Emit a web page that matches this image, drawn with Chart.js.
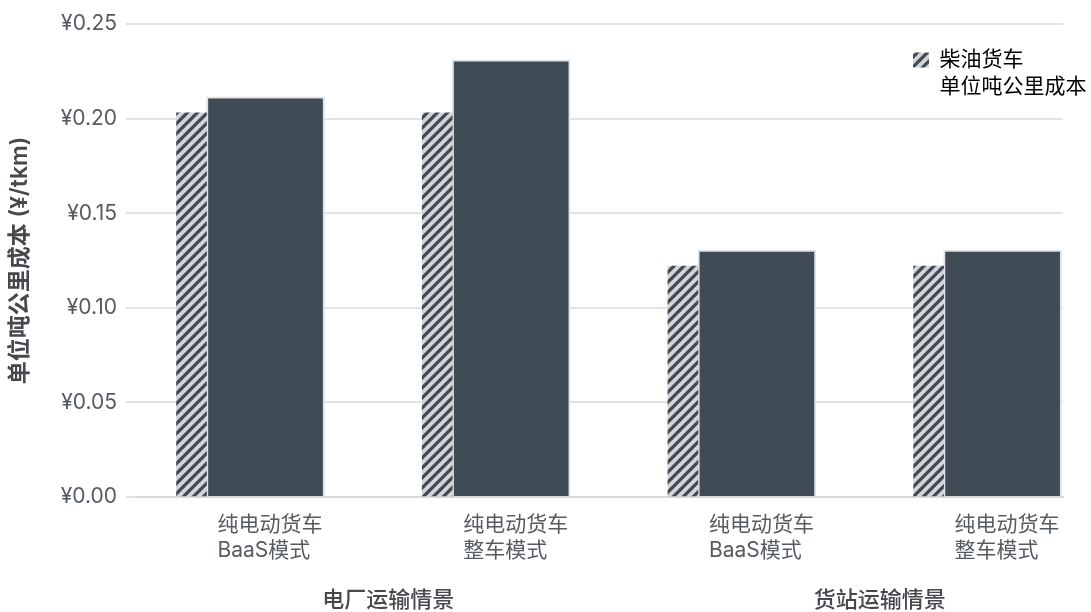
<!DOCTYPE html>
<html>
<head>
<meta charset="utf-8">
<script src="https://cdn.jsdelivr.net/npm/chart.js@4.4.1/dist/chart.umd.min.js"></script>
<style>
html,body{margin:0;padding:0;background:#fff;}
#wrap{width:1091px;height:612px;}
</style>
</head>
<body>
<div id="wrap"><canvas id="c" width="1091" height="612"></canvas></div>
<script>
// ---- data ----
const CATEGORIES = [
  ['纯电动货车', 'BaaS模式'],
  ['纯电动货车', '整车模式'],
  ['纯电动货车', 'BaaS模式'],
  ['纯电动货车', '整车模式']
];
const GROUPS = ['电厂运输情景', '货站运输情景'];
const GROUP_MEMBERS = [[0, 1], [2, 3]];
const DIESEL = [0.203, 0.203, 0.122, 0.122];
const ELECTRIC = [0.2115, 0.231, 0.1305, 0.1305];
const Y_TICKS = [0, 0.05, 0.10, 0.15, 0.20, 0.25];
const DIESEL_LABEL = ['柴油货车', '单位吨公里成本'];
const ELECTRIC_LABEL = '纯电动货车';
const Y_TITLE = '单位吨公里成本 (¥/tkm)';

// ---- styles ----
const FONT = "Inter, 'Noto Sans CJK SC', sans-serif";
const TEXT = '#565b61';
const TITLE = '#45494e';
const DARK = '#3f4b55';
const GRID = '#e3e3e3';

function makeHatch() {
  const s = 10;
  const c = document.createElement('canvas');
  c.width = s; c.height = s;
  const g = c.getContext('2d');
  g.fillStyle = '#d3d4d6';
  g.fillRect(0, 0, s, s);
  g.strokeStyle = '#3f4a54';
  g.lineWidth = 3.2;
  g.beginPath();
  for (let k = 0; k <= 2; k++) {
    g.moveTo(-1, k * s + 1);
    g.lineTo(s + 1, k * s - s - 1);
  }
  g.stroke();
  return document.getElementById('c').getContext('2d').createPattern(c, 'repeat');
}
const hatch = makeHatch();

Chart.defaults.font.family = FONT;
Chart.defaults.color = TEXT;

const X_MIN = -0.287, X_MAX = 3.486;
const mean = a => a.reduce((s, v) => s + v, 0) / a.length;

const legendPlacer = {
  id: 'legendPlacer',
  beforeDraw(chart) {
    const lg = chart.legend;
    if (!lg) return;
    const a = chart.chartArea;
    const w = lg.width, h = lg.height;
    lg.left = a.right - 156; lg.right = lg.left + w;
    lg.top = a.top + 19.5; lg.bottom = lg.top + h;
  }
};

new Chart(document.getElementById('c'), {
  type: 'bar',
  data: {
    datasets: [
      {
        label: DIESEL_LABEL[0],
        data: DIESEL.map((v, i) => ({ x: i, y: v })),
        backgroundColor: hatch,
        borderWidth: 0,
        barThickness: 30
      },
      {
        label: ELECTRIC_LABEL,
        data: ELECTRIC.map((v, i) => ({ x: i, y: v })),
        backgroundColor: DARK,
        borderColor: '#e2e2e2',
        borderWidth: 2,
        barThickness: 118
      }
    ]
  },
  options: {
    responsive: false,
    animation: false,
    devicePixelRatio: 1,
    layout: { padding: { left: 0, right: 28, top: 24, bottom: 0 } },
    plugins: {
      tooltip: { enabled: false },
      legend: {
        position: 'chartArea',
        align: 'start',
        labels: {
          boxWidth: 16,
          boxHeight: 15,
          padding: 6,
          color: TEXT,
          font: { size: 21, family: FONT },
          generateLabels: () => [
            { text: DIESEL_LABEL[0], fillStyle: hatch, strokeStyle: 'rgba(0,0,0,0)', lineWidth: 0, hidden: false, datasetIndex: 0 },
            { text: DIESEL_LABEL[1], fillStyle: 'rgba(0,0,0,0)', strokeStyle: 'rgba(0,0,0,0)', lineWidth: 0, hidden: false }
          ]
        },
        onClick: () => {}
      }
    },
    scales: {
      x: {
        type: 'linear',
        position: 'bottom',
        offset: false,
        min: X_MIN, max: X_MAX,
        grid: { display: false, offset: false },
        border: { display: true, color: '#d9d9d9', width: 2 },
        afterBuildTicks: s => { s.ticks = CATEGORIES.map((_, i) => ({ value: i })); },
        ticks: {
          align: 'start',
          labelOffset: 11,
          padding: 7.5,
          autoSkip: false,
          maxRotation: 0,
          color: TEXT,
          font: { size: 21, family: FONT, lineHeight: 1.2 },
          callback: v => CATEGORIES[v] ?? ''
        },
        afterFit: s => { s.height = 85; }
      },
      x2: {
        type: 'linear',
        position: 'bottom',
        offset: false,
        min: X_MIN, max: X_MAX,
        grid: { display: false, offset: false, drawTicks: false },
        border: { display: false },
        afterBuildTicks: s => { s.ticks = GROUP_MEMBERS.map(m => ({ value: mean(m) })); },
        ticks: {
          labelOffset: 59,
          padding: 7,
          autoSkip: false,
          maxRotation: 0,
          color: TITLE,
          font: { size: 22, family: FONT, weight: '500', lineHeight: 1 },
          callback: (v, i) => GROUPS[i]
        },
        afterFit: s => { s.height = 30; }
      },
      y: {
        min: 0, max: 0.25,
        afterBuildTicks: s => { s.ticks = Y_TICKS.map(v => ({ value: v })); },
        grid: { color: GRID, lineWidth: 2, tickLength: 10, tickColor: GRID },
        border: { display: false },
        ticks: {
          padding: 9,
          color: TEXT,
          font: { size: 21, family: FONT },
          callback: v => '¥' + v.toFixed(2)
        },
        title: {
          display: true,
          text: Y_TITLE,
          color: TITLE,
          font: { size: 23, family: FONT, weight: '600', lineHeight: 1.2 },
          padding: { top: 6, bottom: 0 }
        },
        afterFit: s => { s.width = 136; }
      }
    }
  },
  plugins: [legendPlacer]
});
</script>
</body>
</html>
